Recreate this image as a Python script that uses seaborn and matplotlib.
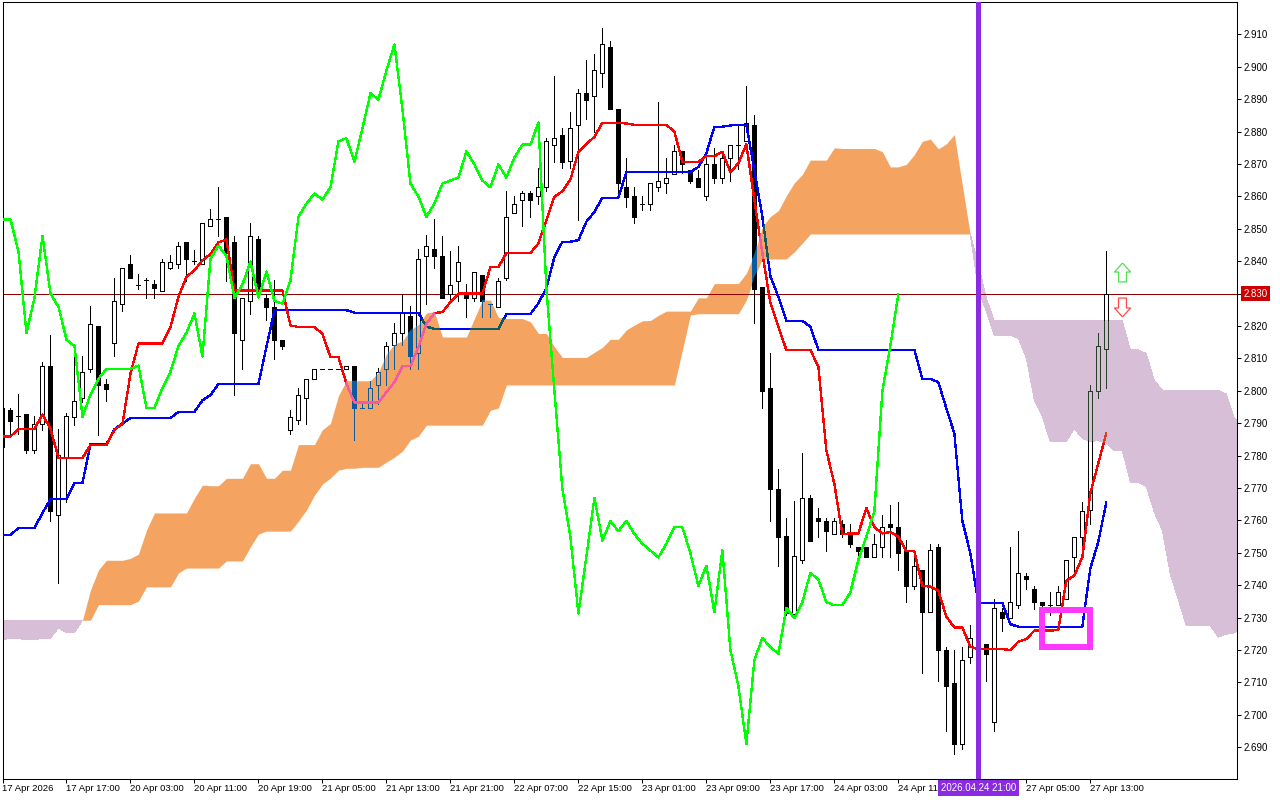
import matplotlib
matplotlib.use("Agg")
import matplotlib.pyplot as plt
import seaborn as sns
from matplotlib.path import Path
from matplotlib.patches import Rectangle
from matplotlib.transforms import blended_transform_factory

# Hourly candles
opens = [
    2.7826, 2.7940, 2.7921, 2.7929, 2.7818, 2.7898, 2.8078, 2.7617, 2.7797, 2.7919,
    2.7979, 2.8068, 2.8199, 2.8020, 2.8149, 2.8269, 2.8391, 2.8328, 2.8341, 2.8329,
    2.8309, 2.8380, 2.8390, 2.8458, 2.8400, 2.8390, 2.8510, 2.8529, 2.8538, 2.8458,
    2.8158, 2.8278, 2.8470, 2.8288, 2.8259, 2.8158, 2.7880, 2.7909, 2.7979, 2.8037,
    2.8068, 2.8068, 2.8068, 2.8067, 2.8078, 2.7948, 2.7947, 2.8018, 2.8068, 2.8140,
    2.8179, 2.8230, 2.8117, 2.8417, 2.8439, 2.8417, 2.8300, 2.8340, 2.8300, 2.8288,
    2.8359, 2.8269, 2.8260, 2.8349, 2.8550, 2.8590, 2.8609, 2.8600, 2.8628, 2.8760,
    2.8788, 2.8708, 2.8819, 2.8918, 2.8909, 2.8980, 2.9060, 2.8869, 2.8628, 2.8600,
    2.8578, 2.8578, 2.8628, 2.8640, 2.8668, 2.8739, 2.8680, 2.8658, 2.8600, 2.8699,
    2.8658, 2.8720, 2.8760, 2.8770, 2.8819, 2.8319, 2.8010, 2.7697, 2.7552, 2.7310,
    2.7478, 2.7670, 2.7608, 2.7599, 2.7558, 2.7589, 2.7558, 2.7518, 2.7518, 2.7487,
    2.7518, 2.7589, 2.7580, 2.7508, 2.7398, 2.7447, 2.7317, 2.7518, 2.7200, 2.7098,
    2.6910, 2.7178, 2.7203, 2.7218, 2.6978, 2.7317, 2.7299, 2.7339, 2.7429, 2.7388,
    2.7348, 2.7339, 2.7339, 2.7358, 2.7487, 2.7549, 2.7631, 2.7999, 2.8130,
]
highs = [
    2.7948, 2.7948, 2.7989, 2.7929, 2.7921, 2.8089, 2.8171, 2.7882, 2.7931, 2.8109,
    2.8109, 2.8261, 2.8199, 2.8037, 2.8349, 2.8380, 2.8418, 2.8360, 2.8349, 2.8341,
    2.8408, 2.8418, 2.8458, 2.8458, 2.8436, 2.8519, 2.8560, 2.8628, 2.8538, 2.8479,
    2.8288, 2.8519, 2.8479, 2.8300, 2.8341, 2.8158, 2.7940, 2.8010, 2.8037, 2.8068,
    2.8068, 2.8068, 2.8068, 2.8078, 2.8078, 2.7962, 2.8030, 2.8071, 2.8150, 2.8209,
    2.8300, 2.8261, 2.8439, 2.8480, 2.8529, 2.8479, 2.8430, 2.8448, 2.8329, 2.8368,
    2.8359, 2.8269, 2.8349, 2.8618, 2.8601, 2.8618, 2.8618, 2.8689, 2.8779, 2.8972,
    2.8810, 2.8859, 2.8930, 2.9020, 2.9039, 2.9119, 2.9079, 2.8869, 2.8720, 2.8628,
    2.8600, 2.8640, 2.8890, 2.8720, 2.8760, 2.8739, 2.8680, 2.8681, 2.8727, 2.8748,
    2.8738, 2.8760, 2.8819, 2.8941, 2.8851, 2.8319, 2.8118, 2.7759, 2.7609, 2.7659,
    2.7809, 2.7679, 2.7639, 2.7608, 2.7608, 2.7600, 2.7589, 2.7518, 2.7518, 2.7558,
    2.7617, 2.7649, 2.7657, 2.7540, 2.7508, 2.7447, 2.7528, 2.7528, 2.7209, 2.7201,
    2.7209, 2.7277, 2.7210, 2.7218, 2.7358, 2.7330, 2.7519, 2.7568, 2.7438, 2.7398,
    2.7348, 2.7379, 2.7398, 2.7478, 2.7549, 2.7657, 2.8019, 2.8179, 2.8431,
]
lows = [
    2.7826, 2.7862, 2.7867, 2.7808, 2.7808, 2.7880, 2.7599, 2.7407, 2.7657, 2.7896,
    2.7966, 2.8058, 2.7865, 2.7968, 2.8107, 2.8246, 2.8348, 2.8315, 2.8287, 2.8287,
    2.8309, 2.8377, 2.8378, 2.8339, 2.8390, 2.8390, 2.8510, 2.8478, 2.8339, 2.7987,
    2.8067, 2.8236, 2.8300, 2.8218, 2.8097, 2.8129, 2.7866, 2.7898, 2.7898, 2.8037,
    2.8068, 2.8068, 2.8068, 2.8067, 2.7849, 2.7948, 2.7947, 2.7960, 2.8017, 2.8067,
    2.8140, 2.8067, 2.8067, 2.8269, 2.8379, 2.8287, 2.8277, 2.8277, 2.8228, 2.8277,
    2.8228, 2.8228, 2.8260, 2.8341, 2.8550, 2.8509, 2.8537, 2.8578, 2.8618, 2.8707,
    2.8689, 2.8689, 2.8527, 2.8838, 2.8800, 2.8939, 2.8869, 2.8602, 2.8568, 2.8519,
    2.8558, 2.8558, 2.8618, 2.8609, 2.8668, 2.8671, 2.8640, 2.8628, 2.8589, 2.8640,
    2.8640, 2.8648, 2.8686, 2.8770, 2.8209, 2.7947, 2.7598, 2.7458, 2.7308, 2.7310,
    2.7468, 2.7538, 2.7548, 2.7507, 2.7558, 2.7548, 2.7517, 2.7486, 2.7486, 2.7487,
    2.7486, 2.7486, 2.7447, 2.7347, 2.7388, 2.7128, 2.7317, 2.7105, 2.6949, 2.6879,
    2.6896, 2.7159, 2.7203, 2.7105, 2.6949, 2.7258, 2.7299, 2.7329, 2.7388, 2.7328,
    2.7328, 2.7308, 2.7339, 2.7358, 2.7445, 2.7517, 2.7589, 2.7977, 2.8009,
]
closes = [
    2.7948, 2.7907, 2.7921, 2.7818, 2.7898, 2.8078, 2.7630, 2.7801, 2.7921, 2.7970,
    2.8059, 2.8207, 2.8019, 2.8007, 2.8278, 2.8380, 2.8348, 2.8328, 2.8341, 2.8318,
    2.8399, 2.8399, 2.8448, 2.8408, 2.8400, 2.8519, 2.8529, 2.8529, 2.8429, 2.8178,
    2.8288, 2.8479, 2.8300, 2.8259, 2.8158, 2.8138, 2.7920, 2.7988, 2.8037, 2.8068,
    2.8068, 2.8068, 2.8068, 2.8078, 2.7947, 2.7948, 2.8010, 2.8059, 2.8139, 2.8179,
    2.8239, 2.8106, 2.8408, 2.8448, 2.8416, 2.8287, 2.8328, 2.8399, 2.8288, 2.8368,
    2.8277, 2.8269, 2.8340, 2.8537, 2.8578, 2.8609, 2.8590, 2.8628, 2.8770, 2.8779,
    2.8707, 2.8810, 2.8918, 2.8899, 2.8989, 2.9069, 2.8869, 2.8640, 2.8599, 2.8537,
    2.8578, 2.8640, 2.8649, 2.8658, 2.8739, 2.8699, 2.8649, 2.8628, 2.8699, 2.8658,
    2.8720, 2.8760, 2.8760, 2.8828, 2.8315, 2.7999, 2.7696, 2.7548, 2.7313, 2.7489,
    2.7670, 2.7538, 2.7598, 2.7567, 2.7599, 2.7558, 2.7528, 2.7507, 2.7486, 2.7528,
    2.7580, 2.7579, 2.7499, 2.7398, 2.7460, 2.7317, 2.7508, 2.7200, 2.7089, 2.6910,
    2.7169, 2.7237, 2.7210, 2.7188, 2.7330, 2.7299, 2.7348, 2.7438, 2.7418, 2.7348,
    2.7338, 2.7339, 2.7378, 2.7478, 2.7549, 2.7629, 2.7999, 2.8139, 2.8300,
]

# Ichimoku lines
tenkan = [
    2.7859, 2.7859, 2.7883, 2.7883, 2.7883, 2.7927, 2.7883, 2.7793, 2.7793, 2.7793,
    2.7793, 2.7833, 2.7833, 2.7833, 2.7880, 2.7898, 2.8053, 2.8146, 2.8146, 2.8146,
    2.8146, 2.8197, 2.8290, 2.8352, 2.8372, 2.8403, 2.8422, 2.8458, 2.8467, 2.8310,
    2.8310, 2.8310, 2.8310, 2.8310, 2.8310, 2.8310, 2.8202, 2.8197, 2.8197, 2.8197,
    2.8176, 2.8104, 2.8104, 2.8022, 2.7964, 2.7964, 2.7964, 2.7964, 2.7996, 2.8027,
    2.8076, 2.8076, 2.8135, 2.8207, 2.8240, 2.8243, 2.8274, 2.8300, 2.8300, 2.8300,
    2.8300, 2.8382, 2.8382, 2.8425, 2.8425, 2.8425, 2.8425, 2.8455, 2.8527, 2.8599,
    2.8616, 2.8652, 2.8738, 2.8761, 2.8784, 2.8827, 2.8827, 2.8827, 2.8825, 2.8821,
    2.8821, 2.8821, 2.8821, 2.8821, 2.8800, 2.8707, 2.8707, 2.8707, 2.8724, 2.8724,
    2.8738, 2.8675, 2.8702, 2.8761, 2.8589, 2.8425, 2.8271, 2.8198, 2.8126, 2.8126,
    2.8126, 2.8126, 2.8075, 2.7816, 2.7713, 2.7558, 2.7560, 2.7560, 2.7638, 2.7579,
    2.7560, 2.7564, 2.7550, 2.7505, 2.7505, 2.7398, 2.7396, 2.7383, 2.7303, 2.7270,
    2.7270, 2.7210, 2.7203, 2.7203, 2.7203, 2.7203, 2.7200, 2.7226, 2.7234, 2.7260,
    2.7260, 2.7260, 2.7262, 2.7414, 2.7430, 2.7486, 2.7684, 2.7777, 2.7869,
]
kijun = [
    2.7555, 2.7555, 2.7577, 2.7577, 2.7577, 2.7623, 2.7666, 2.7666, 2.7666, 2.7716,
    2.7716, 2.7835, 2.7835, 2.7835, 2.7881, 2.7899, 2.7916, 2.7916, 2.7916, 2.7916,
    2.7916, 2.7916, 2.7935, 2.7935, 2.7935, 2.7971, 2.7987, 2.8021, 2.8021, 2.8021,
    2.8021, 2.8021, 2.8021, 2.8136, 2.8249, 2.8249, 2.8249, 2.8249, 2.8249, 2.8249,
    2.8249, 2.8249, 2.8249, 2.8249, 2.8241, 2.8241, 2.8241, 2.8241, 2.8241, 2.8241,
    2.8241, 2.8241, 2.8241, 2.8198, 2.8191, 2.8191, 2.8191, 2.8191, 2.8191, 2.8191,
    2.8191, 2.8191, 2.8191, 2.8237, 2.8237, 2.8237, 2.8237, 2.8270, 2.8317, 2.8413,
    2.8460, 2.8460, 2.8465, 2.8522, 2.8552, 2.8596, 2.8596, 2.8596, 2.8675, 2.8675,
    2.8675, 2.8675, 2.8675, 2.8675, 2.8675, 2.8675, 2.8675, 2.8691, 2.8733, 2.8815,
    2.8815, 2.8819, 2.8821, 2.8821, 2.8681, 2.8537, 2.8354, 2.8290, 2.8216, 2.8216,
    2.8216, 2.8198, 2.8127, 2.8127, 2.8127, 2.8127, 2.8127, 2.8127, 2.8127, 2.8127,
    2.8127, 2.8127, 2.8127, 2.8127, 2.8127, 2.8037, 2.8037, 2.8027, 2.7946, 2.7869,
    2.7599, 2.7499, 2.7346, 2.7346, 2.7346, 2.7346, 2.7280, 2.7272, 2.7272, 2.7272,
    2.7272, 2.7272, 2.7272, 2.7272, 2.7272, 2.7272, 2.7452, 2.7534, 2.7656,
]
chikou = [
    2.8529, 2.8529, 2.8429, 2.8178, 2.8288, 2.8479, 2.8300, 2.8259, 2.8158, 2.8138,
    2.7920, 2.7988, 2.8037, 2.8068, 2.8068, 2.8068, 2.8068, 2.8078, 2.7947, 2.7948,
    2.8010, 2.8059, 2.8139, 2.8179, 2.8239, 2.8106, 2.8408, 2.8448, 2.8416, 2.8287,
    2.8328, 2.8399, 2.8288, 2.8368, 2.8277, 2.8269, 2.8340, 2.8537, 2.8578, 2.8609,
    2.8590, 2.8628, 2.8770, 2.8779, 2.8707, 2.8810, 2.8918, 2.8899, 2.8989, 2.9069,
    2.8869, 2.8640, 2.8599, 2.8537, 2.8578, 2.8640, 2.8649, 2.8658, 2.8739, 2.8699,
    2.8649, 2.8628, 2.8699, 2.8658, 2.8720, 2.8760, 2.8760, 2.8828, 2.8315, 2.7999,
    2.7696, 2.7548, 2.7313, 2.7489, 2.7670, 2.7538, 2.7598, 2.7567, 2.7599, 2.7558,
    2.7528, 2.7507, 2.7486, 2.7528, 2.7580, 2.7579, 2.7499, 2.7398, 2.7460, 2.7317,
    2.7508, 2.7200, 2.7089, 2.6910, 2.7169, 2.7237, 2.7210, 2.7188, 2.7330, 2.7299,
    2.7348, 2.7438, 2.7418, 2.7348, 2.7338, 2.7339, 2.7378, 2.7478, 2.7549, 2.7629,
    2.7999, 2.8139, 2.8300,
]

# Cloud edges, they run on past the last candle
span_a = [
    2.7233, 2.7235, 2.7235, 2.7232, 2.7232, 2.7236, 2.7237, 2.7268, 2.7253, 2.7253,
    2.7292, 2.7385, 2.7447, 2.7477, 2.7477, 2.7477, 2.7483, 2.7496, 2.7570, 2.7623,
    2.7623, 2.7623, 2.7623, 2.7623, 2.7669, 2.7709, 2.7707, 2.7707, 2.7730, 2.7730,
    2.7730, 2.7775, 2.7775, 2.7730, 2.7730, 2.7755, 2.7755, 2.7834, 2.7834, 2.7834,
    2.7880, 2.7899, 2.7985, 2.8031, 2.8031, 2.8031, 2.8031, 2.8057, 2.8113, 2.8144,
    2.8154, 2.8187, 2.8205, 2.8240, 2.8244, 2.8166, 2.8166, 2.8166, 2.8166, 2.8223,
    2.8280, 2.8280, 2.8226, 2.8223, 2.8223, 2.8223, 2.8213, 2.8177, 2.8177, 2.8136,
    2.8103, 2.8103, 2.8103, 2.8103, 2.8119, 2.8134, 2.8159, 2.8159, 2.8188, 2.8203,
    2.8216, 2.8217, 2.8233, 2.8246, 2.8246, 2.8246, 2.8246, 2.8287, 2.8287, 2.8331,
    2.8331, 2.8331, 2.8331, 2.8363, 2.8422, 2.8506, 2.8538, 2.8556, 2.8602, 2.8642,
    2.8668, 2.8712, 2.8712, 2.8712, 2.8750, 2.8748, 2.8748, 2.8748, 2.8748, 2.8748,
    2.8738, 2.8691, 2.8691, 2.8699, 2.8729, 2.8770, 2.8777, 2.8747, 2.8762, 2.8791,
    2.8635, 2.8481, 2.8313, 2.8244, 2.8171, 2.8171, 2.8171, 2.8162, 2.8101, 2.7972,
    2.7920, 2.7843, 2.7844, 2.7844, 2.7883, 2.7853, 2.7844, 2.7846, 2.7839, 2.7816,
    2.7816, 2.7718, 2.7717, 2.7705, 2.7625, 2.7570, 2.7435, 2.7355, 2.7275, 2.7275,
    2.7275, 2.7275, 2.7240, 2.7249, 2.7253, 2.7266,
]
span_b = [
    2.7292, 2.7292, 2.7292, 2.7292, 2.7292, 2.7292, 2.7292, 2.7292, 2.7292, 2.7292,
    2.7292, 2.7292, 2.7340, 2.7340, 2.7340, 2.7340, 2.7340, 2.7351, 2.7395, 2.7395,
    2.7395, 2.7395, 2.7438, 2.7453, 2.7453, 2.7453, 2.7453, 2.7453, 2.7475, 2.7475,
    2.7475, 2.7519, 2.7558, 2.7567, 2.7567, 2.7567, 2.7567, 2.7598, 2.7632, 2.7678,
    2.7712, 2.7731, 2.7755, 2.7761, 2.7761, 2.7764, 2.7764, 2.7764, 2.7780, 2.7795,
    2.7814, 2.7848, 2.7860, 2.7894, 2.7894, 2.7894, 2.7894, 2.7894, 2.7894, 2.7894,
    2.7894, 2.7940, 2.7947, 2.8018, 2.8018, 2.8018, 2.8018, 2.8018, 2.8018, 2.8018,
    2.8018, 2.8018, 2.8018, 2.8018, 2.8018, 2.8018, 2.8018, 2.8018, 2.8018, 2.8018,
    2.8018, 2.8018, 2.8018, 2.8018, 2.8018, 2.8126, 2.8234, 2.8238, 2.8238, 2.8238,
    2.8238, 2.8238, 2.8238, 2.8280, 2.8352, 2.8407, 2.8407, 2.8407, 2.8407, 2.8429,
    2.8456, 2.8484, 2.8484, 2.8484, 2.8484, 2.8484, 2.8484, 2.8484, 2.8484, 2.8484,
    2.8484, 2.8484, 2.8484, 2.8484, 2.8484, 2.8484, 2.8484, 2.8484, 2.8484, 2.8484,
    2.8484, 2.8484, 2.8391, 2.8286, 2.8216, 2.8216, 2.8216, 2.8216, 2.8216, 2.8216,
    2.8216, 2.8216, 2.8216, 2.8216, 2.8216, 2.8216, 2.8216, 2.8216, 2.8216, 2.8216,
    2.8216, 2.8127, 2.8127, 2.8115, 2.8033, 2.8002, 2.8002, 2.8002, 2.8002, 2.8002,
    2.8002, 2.8002, 2.8002, 2.7990, 2.7915, 2.7903,
]

# Axis labels, the date tag covers what is missing around bar 120
y_ticks = [2.69, 2.70, 2.71, 2.72, 2.73, 2.74, 2.75, 2.76, 2.77, 2.78, 2.79, 2.80,
           2.81, 2.82, 2.83, 2.84, 2.85, 2.86, 2.87, 2.88, 2.89, 2.90, 2.91]
x_ticks = [0, 8, 16, 24, 32, 40, 48, 56, 64, 72, 80, 88, 96, 104, 112, 120, 128, 136]
x_labels = ["17 Apr 2026", "17 Apr 17:00", "20 Apr 03:00", "20 Apr 11:00", "20 Apr 19:00",
            "21 Apr 05:00", "21 Apr 13:00", "21 Apr 21:00", "22 Apr 07:00", "22 Apr 15:00",
            "23 Apr 01:00", "23 Apr 09:00", "23 Apr 17:00", "24 Apr 03:00", "24 Apr 11",
            "", "27 Apr 05:00", "27 Apr 13:00"]

marked_bar = 122
marked_label = "2026.04.24 21:00"
box_bars = [130, 136]
box_prices = [2.7208, 2.7323]
arrow_bar = 140
arrow_up_price = 2.8366
arrow_down_price = 2.8258

ORANGE = "#F4A460"
THISTLE = "#D8BFD8"
THIN = 0.55

sns.set_theme(style="white")
plt.rcParams["font.family"] = ["Liberation Sans", "DejaVu Sans"]

fig = plt.figure(figsize=(12.8, 8), dpi=100)
ax = fig.add_axes([2.5 / 1280, 21 / 800, 1234.5 / 1280, 777 / 800])
cloud_x = list(range(len(span_a)))
a_over = [a >= b for a, b in zip(span_a, span_b)]
b_over = [b >= a for a, b in zip(span_a, span_b)]
up_cloud = ax.fill_between(cloud_x, span_a, span_b, where=a_over, interpolate=True,
                           color=ORANGE, linewidth=0, zorder=1, antialiased=False)
down_cloud = ax.fill_between(cloud_x, span_a, span_b, where=b_over, interpolate=True,
                             color=THISTLE, linewidth=0, zorder=1, antialiased=False)
up_path = Path.make_compound_path(*up_cloud.get_paths())
down_path = Path.make_compound_path(*down_cloud.get_paths())


def draw_candles(color, zorder, clip=None):
    xs = list(range(len(opens)))
    tops = [max(o, c) for o, c in zip(opens, closes)]
    bottoms = [min(o, c) for o, c in zip(opens, closes)]
    upper = ax.vlines(xs, tops, highs, color=color, linewidth=THIN, zorder=zorder, antialiased=False)
    lower = ax.vlines(xs, lows, bottoms, color=color, linewidth=THIN, zorder=zorder, antialiased=False)
    faces = [color if c < o else "none" for o, c in zip(opens, closes)]
    bars = ax.bar(xs, [t - b for t, b in zip(tops, bottoms)], bottom=bottoms, width=0.5,
                  color=faces, edgecolor=color, linewidth=THIN, zorder=zorder, antialiased=False)
    if clip is not None:
        upper.set_clip_path(clip, ax.transData)
        lower.set_clip_path(clip, ax.transData)
        for patch in bars:
            patch.set_clip_path(clip, ax.transData)


def draw_line(values, color, zorder, clip=None):
    sns.lineplot(x=list(range(len(values))), y=values, color=color, linewidth=0.95,
                 zorder=zorder, ax=ax, antialiased=False, legend=False)
    line = ax.lines[-1]
    if clip is not None:
        line.set_clip_path(clip, ax.transData)


# Price line
ax.axhline(closes[-1], color="#8C0000", linewidth=THIN, zorder=2, antialiased=False)

draw_candles("black", 3)
draw_line(kijun, "#0000FF", 4)
draw_line(tenkan, "#FF0000", 4.5)

# The terminal paints the cloud in xor mode, so dark marks change colour inside it
draw_candles("#0B5B9F", 5, up_path)
draw_candles("#274027", 5, down_path)
draw_line(kijun, "#0B5B60", 6, up_path)
draw_line(tenkan, "#F45B9F", 6.5, up_path)
draw_line(tenkan, "#D84027", 6.5, down_path)

draw_line(chikou, "#00FF00", 7)

ax.axvline(marked_bar, color="#8A2BE2", linewidth=3.6, zorder=8, antialiased=False)
ax.add_patch(Rectangle((box_bars[0], box_prices[0]), box_bars[1] - box_bars[0],
                       box_prices[1] - box_prices[0], fill=False, edgecolor="#FF38FF",
                       linewidth=2.9, joinstyle="miter", zorder=8, antialiased=False))

arrow_shape = [(0, 1), (0.85, 0.05), (0.42, 0.05), (0.42, -1), (-0.42, -1), (-0.42, 0.05), (-0.85, 0.05), (0, 1)]
ax.scatter([arrow_bar], [arrow_up_price], marker=arrow_shape, s=185, facecolor="white",
           edgecolor="#4FE04F", linewidth=0.9, zorder=9)
ax.scatter([arrow_bar], [arrow_down_price], marker=[(x, -y) for x, y in arrow_shape], s=185,
           facecolor="white", edgecolor="#FF4A4A", linewidth=0.9, zorder=9)

ax.set_xlim(0.02, 154.34)
ax.set_ylim(2.6802, 2.92)
ax.yaxis.tick_right()
ax.set_yticks(y_ticks)
ax.set_yticklabels([f"{v:.3f}" for v in y_ticks])
ax.set_xticks(x_ticks)
ax.set_xticklabels(x_labels, ha="left")
ax.tick_params(axis="y", length=3, width=0.75, pad=1.5, labelsize=7, colors="black", right=True)
ax.tick_params(axis="x", length=3, width=0.75, pad=0.8, labelsize=6.8, colors="black", bottom=True)
for side in ax.spines.values():
    side.set_color("black")
    side.set_linewidth(0.75)

# Tags over the axes
price_trans = blended_transform_factory(ax.transAxes, ax.transData)
ax.text(1.0052, closes[-1], f"{closes[-1]:.3f}", transform=price_trans, color="white", fontsize=7,
        ha="left", va="center", clip_on=False, zorder=20,
        bbox=dict(facecolor="#CC0000", edgecolor="none", pad=1.6))
date_trans = blended_transform_factory(ax.transData, ax.transAxes)
ax.text(marked_bar, -0.0118, marked_label, transform=date_trans, color="white", fontsize=7,
        ha="center", va="center", clip_on=False, zorder=20,
        bbox=dict(facecolor="#8A2BE2", edgecolor="none", pad=2))

fig.savefig("out.png", dpi=100)
